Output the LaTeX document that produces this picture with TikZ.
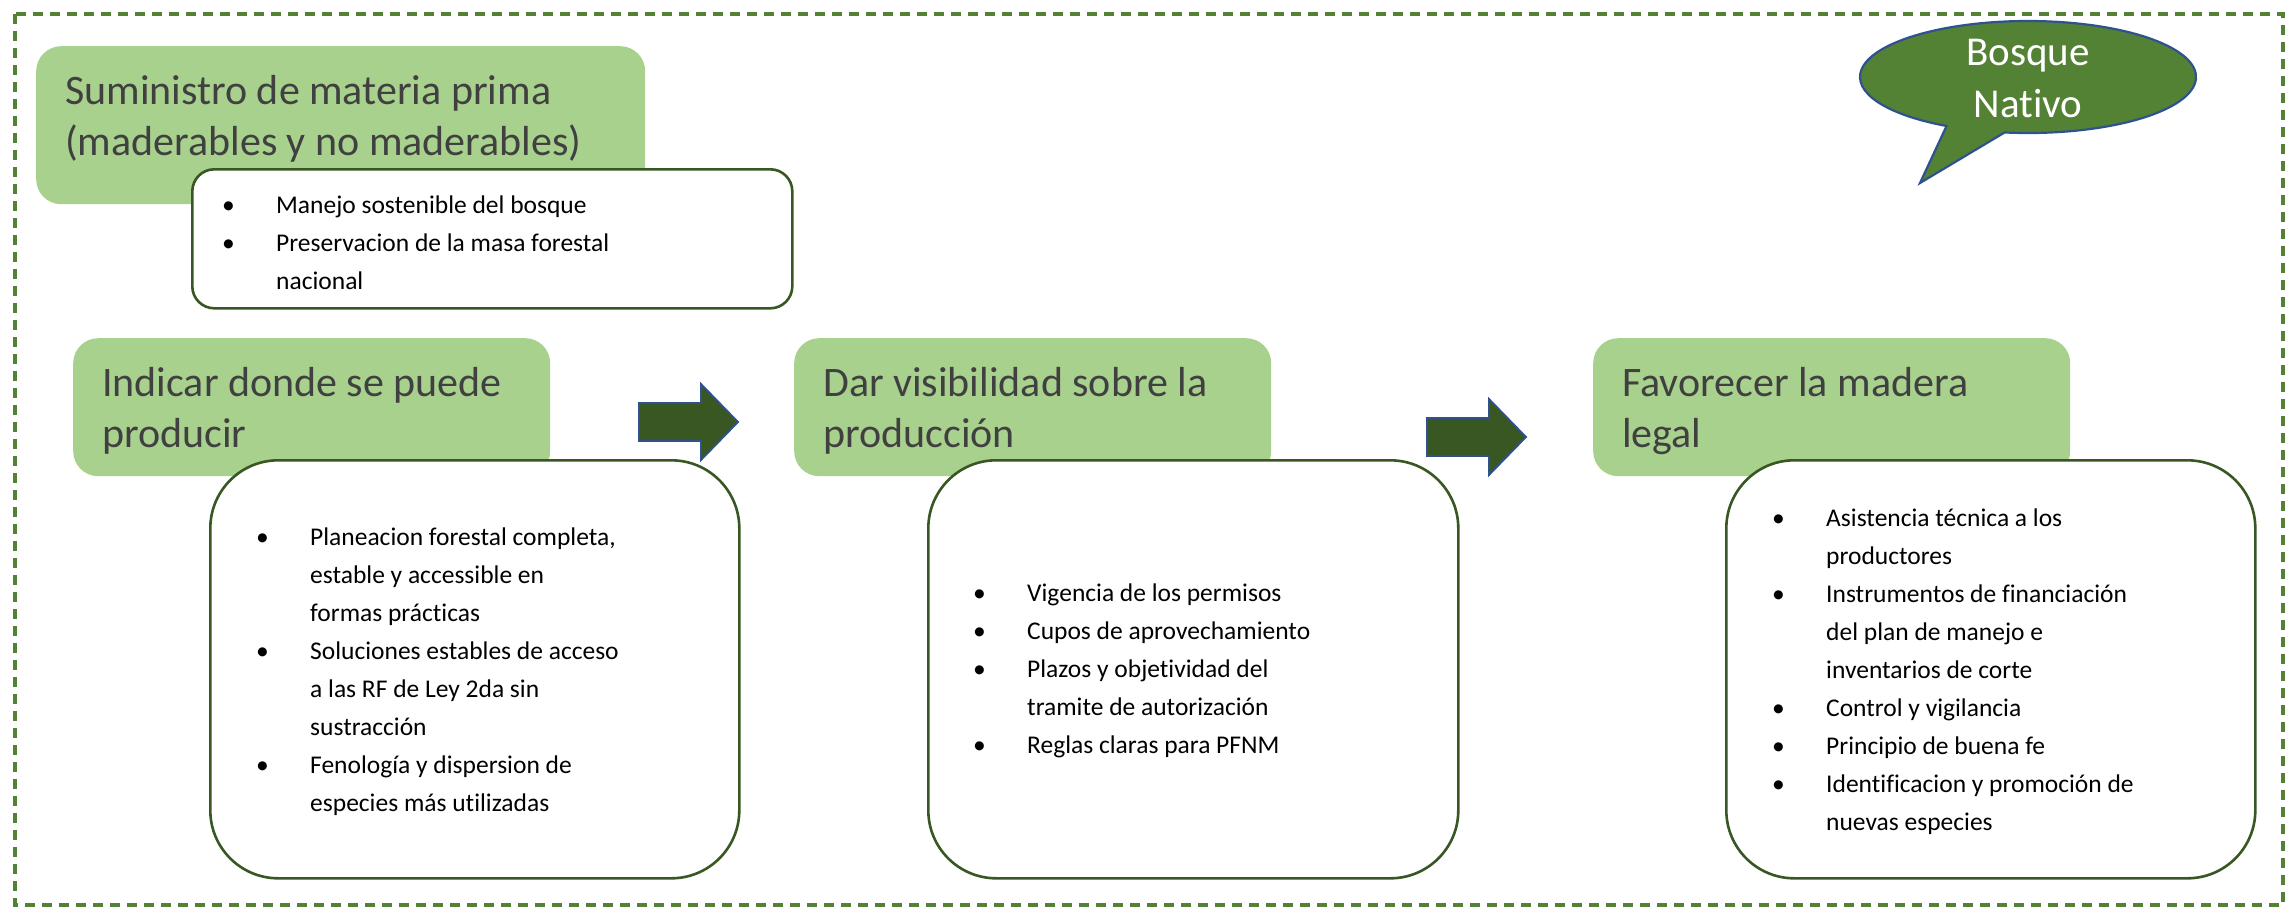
\documentclass[tikz,border=0pt]{standalone}
\usepackage{fontspec}
\setmainfont{Carlito}[Ligatures=NoCommon]
\usetikzlibrary{calc}

\definecolor{hojaverde}{HTML}{A9D18E}
\definecolor{musgo}{HTML}{548235}
\definecolor{pino}{HTML}{385723}
\definecolor{azul}{HTML}{2F528F}
\definecolor{gris}{HTML}{404040}

\newcommand{\vin}{\makebox[54pt][l]{\textbullet}}
\newcommand{\sig}{\hspace*{54pt}}

\begin{document}
\begin{tikzpicture}[x=1pt, y=-1pt,
    caja/.style={fill=hojaverde, rounded corners=25pt, inner sep=0pt, anchor=north west},
    titulo/.style={text=gris, font=\fontsize{42}{51}\selectfont, align=left, inner sep=0pt, anchor=base west},
    lista/.style={draw=pino, line width=2.6pt, fill=white, rounded corners=68pt, inner sep=0pt, anchor=north west},
    puntos/.style={font=\fontsize{25.5}{38}\selectfont, align=left, inner sep=0pt, anchor=west},
    flecha/.style={fill=pino, draw=azul, line width=1.8pt, line join=miter},
    globo/.style={fill=musgo, draw=azul, line width=2.2pt, line join=miter}]

    \useasboundingbox (0,0) rectangle (2292,908);

    % marco
    \draw[musgo, line width=3.4pt, dash pattern=on 10pt off 7pt] (15,14) rectangle (2283,905);

    % cajas verdes
    \node[caja, minimum width=609pt, minimum height=158pt] (suministro) at (36,46) {};
    \node[caja, minimum width=477pt, minimum height=138pt] (indicar) at (73,338) {};
    \node[caja, minimum width=477pt, minimum height=138pt] (visibilidad) at (794,338) {};
    \node[caja, minimum width=477pt, minimum height=138pt] (favorecer) at (1593,338) {};

    % base = segunda linea
    \node[titulo] (suministro-t) at ($(suministro.north west)+(29,109)$) {Suministro de materia prima\\(maderables y no maderables)};
    \node[titulo] (indicar-t) at ($(indicar.north west)+(29,109)$) {Indicar donde se puede\\producir};
    \node[titulo] (visibilidad-t) at ($(visibilidad.north west)+(29,109)$) {Dar visibilidad sobre la\\producción};
    \node[titulo] (favorecer-t) at ($(favorecer.north west)+(29,109)$) {Favorecer la madera\\legal};

    % cajas blancas
    \node[lista, rounded corners=22pt, minimum width=600pt, minimum height=139pt] (manejo) at (191,168) {};
    \node[lista, minimum width=529pt, minimum height=418pt] (planeacion) at (209,459) {};
    \node[lista, minimum width=530pt, minimum height=418pt] (vigencia) at (927,459) {};
    \node[lista, minimum width=529pt, minimum height=418pt] (asistencia) at (1725,459) {};

    \node[puntos] (manejo-l) at ($(manejo.west)+(31,4)$) {%
      \vin Manejo sostenible del bosque\\
      \vin Preservacion de la masa forestal\\
      \sig nacional};
    \node[puntos] (planeacion-l) at ($(planeacion.west)+(47,2)$) {%
      \vin Planeacion forestal completa,\\
      \sig estable y accessible en\\
      \sig formas prácticas\\
      \vin Soluciones estables de acceso\\
      \sig a las RF de Ley 2da sin\\
      \sig sustracción\\
      \vin Fenología y dispersion de\\
      \sig especies más utilizadas};
    \node[puntos] (vigencia-l) at ($(vigencia.west)+(46,2)$) {%
      \vin Vigencia de los permisos\\
      \vin Cupos de aprovechamiento\\
      \vin Plazos y objetividad del\\
      \sig tramite de autorización\\
      \vin Reglas claras para PFNM};
    \node[puntos] (asistencia-l) at ($(asistencia.west)+(47,2)$) {%
      \vin Asistencia técnica a los\\
      \sig productores\\
      \vin Instrumentos de financiación\\
      \sig del plan de manejo e\\
      \sig inventarios de corte\\
      \vin Control y vigilancia\\
      \vin Principio de buena fe\\
      \vin Identificacion y promoción de\\
      \sig nuevas especies};

    % flechas
    \foreach \x/\y in {639/422, 1427/437} {
      \draw[flecha] (\x,\y-19) -- (\x+62,\y-19) -- (\x+62,\y-38) -- (\x+99,\y)
        -- (\x+62,\y+38) -- (\x+62,\y+19) -- (\x,\y+19) -- cycle;
    }

    % globo
    \draw[globo] (2028,77) ++(98:168 and 56) arc[start angle=98, end angle=-241, x radius=168, y radius=56]
      -- (1920,183) -- cycle;
    \node[text=white, font=\fontsize{41}{52}\selectfont, align=center, inner sep=0pt] (nativo) at (2028,78) {Bosque\\Nativo};

\end{tikzpicture}
\end{document}
